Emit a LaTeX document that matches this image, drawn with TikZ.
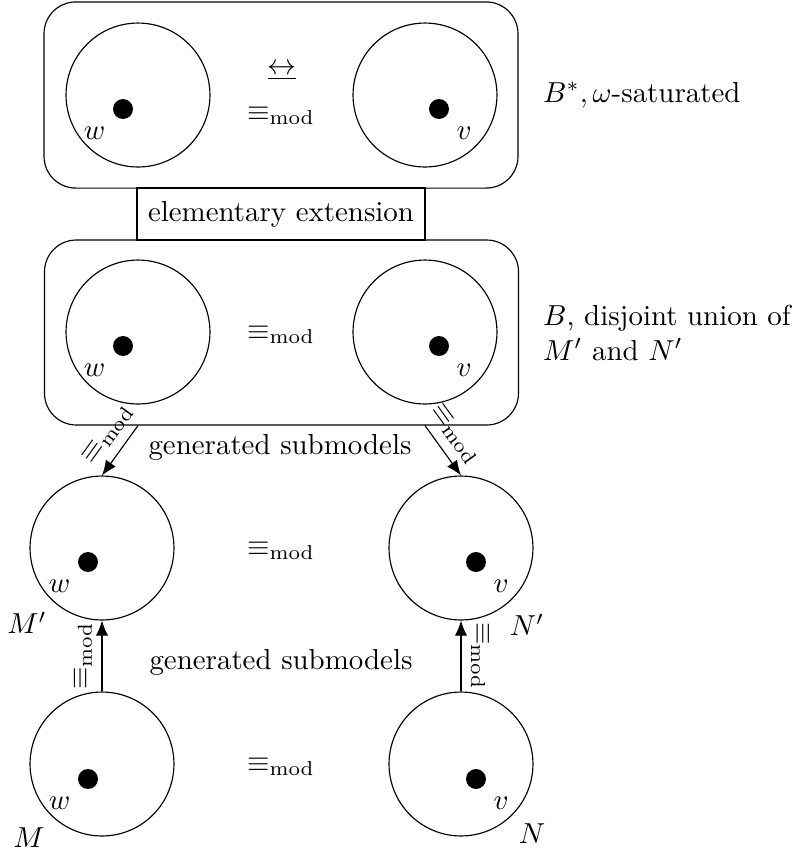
\documentclass[tikz,border=0pt]{standalone}
\usetikzlibrary{arrows.meta}
\begin{document}
\begin{tikzpicture}[x=0.346pt,y=-0.346pt,
  world/.style={circle,draw,minimum size=49.8pt,inner sep=0pt},
  dotnode/.style={circle,fill,minimum size=6.9pt,inner sep=0pt},
  bigbox/.style={draw,rounded corners=11pt,minimum width=164pt,minimum height=64pt,inner sep=0pt},
  conn/.style={-{Latex[length=5.2pt,width=4.2pt]}},
  rconn/.style={{Latex[length=5.2pt,width=4.2pt]}-},
  eqlab/.style={above,sloped}
]
\useasboundingbox (0,0) rectangle (799,850);
% top box
\node[bigbox,minimum height=64.4pt] (Bs) at (281,95) {};
\node[world] (tL) at (138,95) {};
\node[world] (tR) at (425,95) {};
\node[dotnode,label=below left:$w$] (tw) at (123,109) {};
\node[dotnode,label=below right:$v$] (tv) at (439,109) {};
\node (tbis) at (282,72) {$\underline{\leftrightarrow}$};
\node (teq) at (281,116) {$\equiv_{\mathrm{mod}}$};
\node[anchor=west] (tlab) at (533,95) {$B^*, \omega$-saturated};
% elementary extension
\node[draw,minimum width=99.6pt,minimum height=18pt,inner sep=0pt] (ee) at (281,214) {elementary extension};
% middle box
\node[bigbox] (B) at (281.5,332.5) {};
\node[world] (mL) at (138,332) {};
\node[world] (mR) at (425,332) {};
\node[dotnode,label=below left:$w$] (mw) at (123,346) {};
\node[dotnode,label=below right:$v$] (mv) at (439,346) {};
\node (meq) at (281,335) {$\equiv_{\mathrm{mod}}$};
\node[anchor=west,align=left] (mlab) at (533,333) {$B$, disjoint union of\\$M'$ and $N'$};
% generated submodels 1
\node (gs1) at (280,447) {generated submodels};
% M' N'
\node[world] (Mp) at (102,548) {};
\node[world] (Np) at (461,548) {};
\node[dotnode,label=below left:$w$] (pw) at (88,562) {};
\node[dotnode,label=below right:$v$] (pv) at (476,562) {};
\node (peq) at (281,551) {$\equiv_{\mathrm{mod}}$};
\node (Mplab) at (27,623) {$M'$};
\node (Nplab) at (527,625) {$N'$};
% generated submodels 2
\node (gs2) at (281,662) {generated submodels};
% M N
\node[world] (M) at (102,764) {};
\node[world] (N) at (461,764) {};
\node[dotnode,label=below left:$w$] (bw) at (88,779) {};
\node[dotnode,label=below right:$v$] (bv) at (476,779) {};
\node (beq) at (281,767) {$\equiv_{\mathrm{mod}}$};
\node (Mlab) at (29,838) {$M$};
\node (Nlab) at (532,834) {$N$};
% connectors
\draw[conn] (mL |- B.south) -- (Mp.north) node[pos=0.4,eqlab] {$\equiv_{\mathrm{mod}}$};
\draw[conn] (mR |- B.south) -- (Np.north) node[pos=0.4,eqlab] {$\equiv_{\mathrm{mod}}$};
\draw[conn] (M.north) -- (Mp.south) node[midway,eqlab,allow upside down] {$\equiv_{\mathrm{mod}}$};
\draw[rconn] (Np.south) -- (N.north) node[midway,eqlab,allow upside down] {$\equiv_{\mathrm{mod}}$};
\end{tikzpicture}
\end{document}
